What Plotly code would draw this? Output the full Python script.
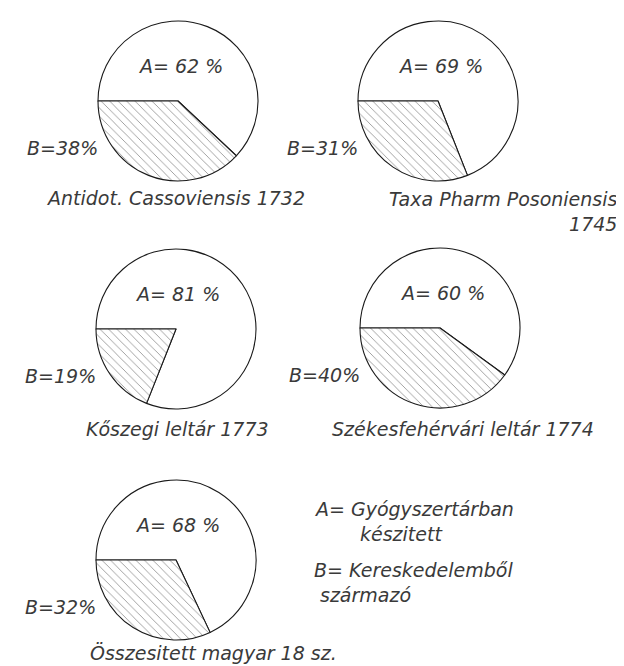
import plotly.graph_objects as go

# ---- data ----
titles = ["Antidot. Cassoviensis 1732", "Taxa Pharm Posoniensis<br>1745",
          "Kőszegi leltár 1773", "Székesfehérvári leltár 1774",
          "Összesitett magyar 18 sz."]
share_A = [62, 69, 81, 60, 68]
share_B = [38, 31, 19, 40, 32]
legend_lines = ["A= Gyógyszertárban", "készitett", "B= Kereskedelemből", "származó"]

# ---- layout (pixel positions) ----
W, H = 624, 666
centers = [(170, 93), (430, 93), (168, 321), (432, 320), (168, 552)]
radius = 80
title_pos = [(167, 190, "center"), (612, 190, "right"), (170, 421, "center"),
             (455, 421, "center"), (205, 645, "center")]
legend_pos = [(304, 501), (350, 526), (304, 562), (310, 587)]

FONT = dict(family="DejaVu Sans", size=19, color="#3a3a3a", style="italic")

def px(x): return x / W
def py(y): return 1 - y / H

fig = go.Figure()
for i in range(5):
    cx, cy = centers[i]
    fig.add_trace(go.Pie(
        labels=["A", "B"], values=[share_A[i], share_B[i]],
        sort=False, direction="counterclockwise", rotation=270,
        textinfo="none", hoverinfo="label+value", showlegend=False,
        marker=dict(colors=["white", "white"],
                    line=dict(color="#1a1a1a", width=1.1),
                    pattern=dict(shape=["", "\\"], fgcolor="#808080",
                                 size=6, solidity=0.12)),
        domain=dict(x=[px(cx - radius), px(cx + radius)],
                    y=[py(cy + radius), py(cy - radius)]),
    ))

ann = []
for i in range(5):
    cx, cy = centers[i]
    ann.append(dict(x=px(cx + 2), y=py(cy - 35), text=f"A= {share_A[i]} %",
                    showarrow=False, xanchor="center", yanchor="middle", font=FONT))
    ann.append(dict(x=px(cx - radius + 2), y=py(cy + 47), text=f"B={share_B[i]}%",
                    showarrow=False, xanchor="right", yanchor="middle", font=FONT))
    x, y, al = title_pos[i]
    if "<br>" in titles[i]:
        ann.append(dict(x=px(x), y=py(y - 12), text=titles[i], showarrow=False,
                        xanchor=al, yanchor="top", align=al, font=FONT))
    else:
        ann.append(dict(x=px(x), y=py(y), text=titles[i], showarrow=False,
                        xanchor=al, yanchor="middle", font=FONT))
for (x, y), t in zip(legend_pos, legend_lines):
    ann.append(dict(x=px(x), y=py(y), text=t, showarrow=False,
                    xanchor="left", yanchor="middle", font=FONT))

fig.update_layout(width=W, height=H, margin=dict(l=0, r=0, t=0, b=0),
                  paper_bgcolor="white", plot_bgcolor="white",
                  annotations=ann)
fig.write_html("out.html")
